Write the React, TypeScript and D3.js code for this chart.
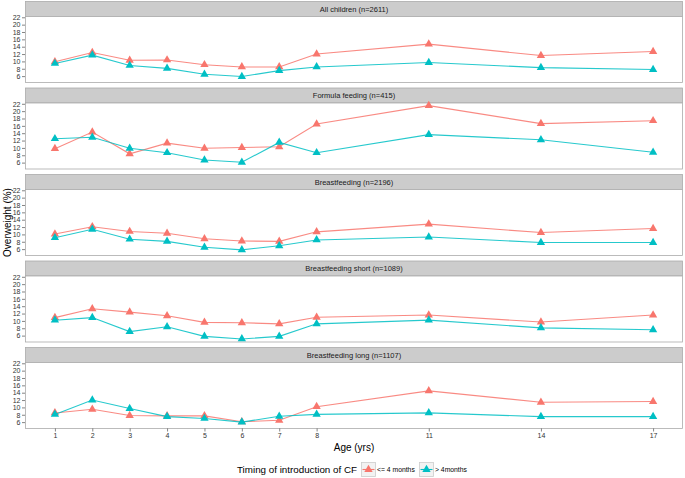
import React, { useRef, useEffect } from "react";
import * as d3 from "d3";

const ages = [1, 2, 3, 4, 5, 6, 7, 8, 11, 14, 17];
const yTicks = [6, 8, 10, 12, 14, 16, 18, 20, 22];
const panelTitles = [
  "All children (n=2611)",
  "Formula feeding (n=415)",
  "Breastfeeding (n=2196)",
  "Breastfeeding short (n=1089)",
  "Breastfeeding long (n=1107)",
];
const seriesNames = ["<= 4 months", "> 4months"];
const seriesColors = ["#F8766D", "#00BFC4"];

// overweight % for "<= 4 months", one row per panel
const earlyCF = [
  [9.9, 12.4, 10.3, 10.4, 9.1, 8.5, 8.5, 12.0, 14.7, 11.6, 12.7],
  [9.8, 14.3, 8.4, 11.3, 9.9, 10.1, 10.3, 16.5, 21.5, 16.6, 17.4],
  [10.1, 12.1, 10.8, 10.3, 8.8, 8.2, 8.1, 10.7, 12.8, 10.5, 11.6],
  [10.9, 13.3, 12.4, 11.4, 9.6, 9.5, 9.2, 11.0, 11.6, 9.7, 11.6],
  [8.5, 9.5, 7.8, 7.7, 7.7, 6.1, 6.5, 10.2, 14.5, 11.4, 11.6],
];
// overweight % for "> 4months"
const lateCF = [
  [9.45, 11.7, 8.9, 8.1, 6.5, 5.9, 7.5, 8.5, 9.7, 8.3, 7.8],
  [12.5, 12.9, 9.9, 8.7, 6.7, 6.1, 11.5, 8.7, 13.6, 12.2, 8.8],
  [9.1, 11.4, 8.7, 8.1, 6.5, 5.8, 6.9, 8.5, 9.3, 7.8, 7.8],
  [10.2, 10.9, 7.1, 8.4, 5.8, 5.1, 5.8, 9.2, 10.2, 8.1, 7.6],
  [8.1, 12.0, 9.7, 7.5, 7.0, 6.0, 7.6, 8.1, 8.5, 7.5, 7.5],
];

const W = 685;
const H = 478;
const left = 25;
const right = 683;
const firstTop = 1;
const step = 86.5;
const stripH = 15;
const plotH = 66;
const font = "'Liberation Sans', Arial, sans-serif";

export default function App() {
  const svgRef = useRef<SVGSVGElement>(null);

  useEffect(() => {
    const svg = d3.select(svgRef.current);
    svg.selectAll("*").remove();

    const x = d3.scaleLinear().domain([0.2, 17.8]).range([left, right]);
    const sym = d3.symbol().type(d3.symbolTriangle).size(30);

    panelTitles.forEach((title, i) => {
      const top = firstTop + i * step;
      const pTop = top + stripH;
      const pBot = pTop + plotH;
      const y = d3.scaleLinear().domain([4.4, 22.35]).range([pBot, pTop]);
      const g = svg.append("g");

      // strip
      g.append("rect")
        .attr("x", left + 0.5).attr("y", top + 0.5)
        .attr("width", right - left - 1).attr("height", stripH)
        .attr("fill", "#CCCCCC").attr("stroke", "#ABABAB").attr("stroke-width", 0.8);
      g.append("text")
        .attr("x", (left + right) / 2).attr("y", top + stripH / 2 + 0.5)
        .attr("dy", "0.35em").attr("text-anchor", "middle")
        .attr("font-family", font).attr("font-size", 7.5).attr("fill", "#1A1A1A")
        .text(title);

      // panel
      g.append("rect")
        .attr("x", left + 0.5).attr("y", pTop + 0.5)
        .attr("width", right - left - 1).attr("height", plotH)
        .attr("fill", "#FFFFFF").attr("stroke", "#ABABAB").attr("stroke-width", 0.8);

      // y axis
      const ay = g.append("g")
        .attr("transform", `translate(${left},0)`)
        .call(d3.axisLeft(y).tickValues(yTicks).tickSize(3).tickPadding(1.5));
      ay.select(".domain").remove();
      ay.selectAll("line").attr("stroke", "#333333").attr("stroke-width", 0.6);
      ay.selectAll("text").attr("font-family", font).attr("font-size", 7).attr("fill", "#333333");

      const rows = [earlyCF[i], lateCF[i]];
      rows.forEach((vals, s) => {
        const pts = ages.map((a, k) => [a, vals[k]] as [number, number]);
        const line = d3.line<[number, number]>().x((d) => x(d[0])).y((d) => y(d[1]));
        g.append("path")
          .attr("d", line(pts) as string)
          .attr("fill", "none").attr("stroke", seriesColors[s]).attr("stroke-width", 1.1)
          .attr("stroke-opacity", 0.85);
        g.selectAll(null)
          .data(pts)
          .join("path")
          .attr("d", sym() as string)
          .attr("transform", (d) => `translate(${x(d[0])},${y(d[1])})`)
          .attr("fill", seriesColors[s]);
      });

      if (i === panelTitles.length - 1) {
        const ax = g.append("g")
          .attr("transform", `translate(0,${pBot + 0.5})`)
          .call(d3.axisBottom(x).tickValues(ages).tickFormat(d3.format("d")).tickSize(3).tickPadding(2));
        ax.select(".domain").remove();
        ax.selectAll("line").attr("stroke", "#333333").attr("stroke-width", 0.6);
        ax.selectAll("text").attr("font-family", font).attr("font-size", 7).attr("fill", "#333333");
      }
    });

    // axis titles
    svg.append("text")
      .attr("x", (left + right) / 2).attr("y", 451)
      .attr("text-anchor", "middle")
      .attr("font-family", font).attr("font-size", 10).attr("fill", "#000")
      .text("Age (yrs)");
    svg.append("text")
      .attr("transform", `translate(10.5,${firstTop + (4 * step + stripH + plotH) / 2 + 8}) rotate(-90)`)
      .attr("text-anchor", "middle")
      .attr("font-family", font).attr("font-size", 10).attr("fill", "#000")
      .text("Overweight (%)");

    // legend
    const lg = svg.append("g");
    lg.append("text")
      .attr("x", 237).attr("y", 473)
      .attr("font-family", font).attr("font-size", 9.8).attr("fill", "#000")
      .text("Timing of introduction of CF");
    const keyX = [361, 419];
    seriesNames.forEach((name, s) => {
      const kx = keyX[s];
      lg.append("rect")
        .attr("x", kx + 0.5).attr("y", 462.5).attr("width", 14).attr("height", 14)
        .attr("fill", "#F2F2F2").attr("stroke", "#CCCCCC").attr("stroke-width", 0.8);
      lg.append("line")
        .attr("x1", kx + 1.5).attr("x2", kx + 13.5).attr("y1", 469.5).attr("y2", 469.5)
        .attr("stroke", seriesColors[s]).attr("stroke-width", 1.1);
      lg.append("path")
        .attr("d", sym() as string)
        .attr("transform", `translate(${kx + 7.5},${469.5})`)
        .attr("fill", seriesColors[s]);
      lg.append("text")
        .attr("x", kx + 16).attr("y", 469.5).attr("dy", "0.35em")
        .attr("font-family", font).attr("font-size", 6.8).attr("fill", "#000")
        .text(name);
    });
  }, []);

  return (
    <svg
      ref={svgRef}
      width={W}
      height={H}
      style={{ position: "absolute", left: 0, top: 0, background: "#FFFFFF" }}
    ></svg>
  );
}
